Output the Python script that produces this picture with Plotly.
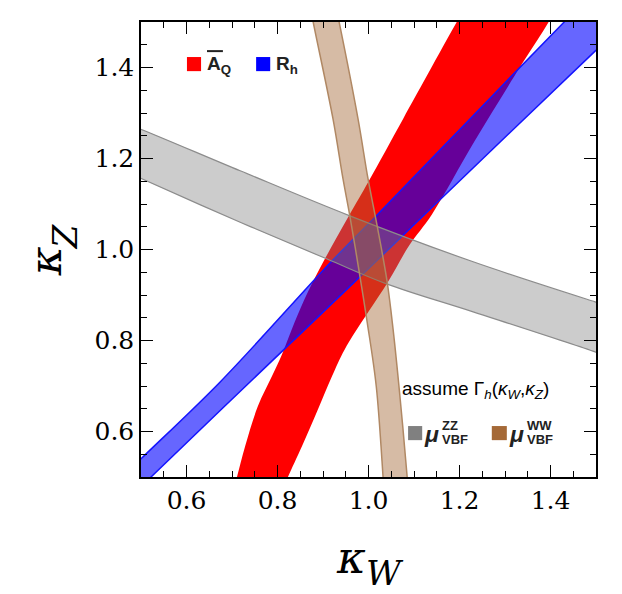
import plotly.graph_objects as go

# band edges, as (kappa_W, kappa_Z) pairs
# A_Q band (red)
aq_left_kw = [0.703, 0.711, 0.729, 0.757, 0.788, 0.810, 0.838, 0.867, 0.904, 0.957, 1.001, 1.076, 1.195, 1.210]
aq_left_kz = [0.470, 0.500, 0.568, 0.656, 0.722, 0.770, 0.841, 0.907, 0.979, 1.074, 1.151, 1.287, 1.502, 1.528]
aq_right_kw = [0.810, 0.823, 0.854, 0.889, 0.920, 0.948, 1.043, 1.089, 1.140, 1.232, 1.333, 1.397, 1.410]
aq_right_kz = [0.470, 0.500, 0.568, 0.649, 0.722, 0.781, 0.929, 1.008, 1.078, 1.236, 1.401, 1.502, 1.528]

# R_h band (blue)
rh_left_kw = [0.470, 0.500, 0.674, 0.918, 1.021, 1.223, 1.432, 1.490]
rh_left_kz = [0.510, 0.540, 0.709, 0.973, 1.078, 1.287, 1.502, 1.560]
rh_right_kw = [0.490, 0.522, 0.678, 1.045, 1.140, 1.498, 1.560]
rh_right_kz = [0.470, 0.500, 0.650, 1.001, 1.093, 1.436, 1.495]

# mu_VBF^ZZ band (gray)
zz_top_kw = [0.470, 0.498, 0.718, 0.959, 1.230, 1.498, 1.530]
zz_top_kz = [1.275, 1.265, 1.173, 1.074, 0.973, 0.885, 0.875]
zz_bot_kw = [0.470, 0.498, 0.718, 0.909, 1.041, 1.230, 1.498, 1.530]
zz_bot_kz = [1.170, 1.157, 1.060, 0.979, 0.924, 0.863, 0.775, 0.763]

# mu_VBF^WW band (tan)
ww_left_kw = [0.873, 0.878, 0.922, 0.944, 0.959, 0.981, 0.997, 1.017, 1.032, 1.034]
ww_left_kz = [1.530, 1.502, 1.287, 1.155, 1.074, 0.942, 0.841, 0.700, 0.500, 0.470]
ww_right_kw = [0.929, 0.935, 0.977, 0.999, 1.019, 1.041, 1.054, 1.069, 1.085, 1.087]
ww_right_kz = [1.530, 1.502, 1.287, 1.155, 1.052, 0.929, 0.825, 0.678, 0.500, 0.470]

tick_vals = [0.6, 0.8, 1.0, 1.2, 1.4]
tick_text = ["0.6", "0.8", "1.0", "1.2", "1.4"]


def band(x1, y1, x2, y2, fill, line, width, axes=("x", "y")):
    # outline = one edge forward, the other edge back
    return go.Scatter(x=x1 + x2[::-1], y=y1 + y2[::-1], mode="lines", fill="toself",
                      fillcolor=fill, line=dict(color=line, width=width, shape="spline", smoothing=1.0),
                      xaxis=axes[0], yaxis=axes[1], hoverinfo="skip", showlegend=False)


fig = go.Figure()
fig.add_trace(band(aq_left_kw, aq_left_kz, aq_right_kw, aq_right_kz, "rgb(255,0,0)", "rgb(255,0,0)", 0))
fig.add_trace(band(rh_left_kw, rh_left_kz, rh_right_kw, rh_right_kz, "rgba(0,0,255,0.6)", "rgb(20,20,255)", 1.5))
fig.add_trace(band(zz_top_kw, zz_top_kz, zz_bot_kw, zz_bot_kz, "rgba(128,128,128,0.4)", "rgb(140,140,140)", 1.2))
# last band sits on the overlay axes that carry the top/right ticks
fig.add_trace(band(ww_left_kw, ww_left_kz, ww_right_kw, ww_right_kz, "rgba(165,105,55,0.45)",
                   "rgb(176,136,100)", 1.5, axes=("x2", "y2")))

axis = dict(range=[0.5, 1.5], tickvals=tick_vals, ticktext=tick_text, ticks="inside", ticklen=12,
            tickwidth=1.2, tickcolor="black", showline=True, linecolor="black", linewidth=1.5,
            showgrid=False, zeroline=False,
            tickfont=dict(family="DejaVu Serif", size=25, color="black"),
            minor=dict(dtick=0.05, tick0=0.5, ticks="inside", ticklen=6, tickwidth=1, tickcolor="black"))
fig.update_layout(
    xaxis=dict(axis, side="bottom"),
    yaxis=dict(axis, side="left"),
    xaxis2=dict(axis, side="top", overlaying="x", anchor="y2", showticklabels=False),
    yaxis2=dict(axis, side="right", overlaying="y", anchor="x2", showticklabels=False),
)

# legend swatches
swatches = [
    (0.601, 0.632, 1.392, 1.423, "rgb(255,0,0)"),
    (0.753, 0.784, 1.392, 1.423, "rgb(0,0,255)"),
    (1.087, 1.118, 0.581, 0.612, "rgb(128,128,128)"),
    (1.271, 1.304, 0.581, 0.612, "rgb(165,105,55)"),
]
for x0, x1, y0, y1, c in swatches:
    fig.add_shape(type="rect", x0=x0, x1=x1, y0=y0, y1=y1, fillcolor=c, line=dict(width=0))
# bar over A
fig.add_shape(type="line", x0=0.645, x1=0.680, y0=1.436, y1=1.436, line=dict(color="#222", width=2))

lab = dict(family="Liberation Sans", size=19, color="#222")
fig.add_annotation(x=0.640, y=1.405, text="<b>A<sub>Q</sub></b>", showarrow=False,
                   xanchor="left", yanchor="middle", font=lab)
fig.add_annotation(x=0.792, y=1.405, text="<b>R<sub>h</sub></b>", showarrow=False,
                   xanchor="left", yanchor="middle", font=lab)
fig.add_annotation(x=1.069, y=0.692,
                   text="assume Γ<sub><i>h</i></sub>(<i>κ<sub>W</sub></i>,<i>κ<sub>Z</sub></i>)",
                   showarrow=False, xanchor="left", yanchor="middle",
                   font=dict(family="Liberation Sans", size=19, color="black"))
small = dict(family="Liberation Sans", size=13, color="#222")
for xm, sup in [(1.118, "ZZ"), (1.304, "WW")]:
    fig.add_annotation(x=xm, y=0.594, text="<b><i>μ</i></b>", showarrow=False,
                       xanchor="left", yanchor="middle",
                       font=dict(family="Liberation Sans", size=23, color="#222"))
    fig.add_annotation(x=xm + 0.039, y=0.613, text="<b>" + sup + "</b>", showarrow=False,
                       xanchor="left", yanchor="middle", font=small)
    fig.add_annotation(x=xm + 0.039, y=0.583, text="<b>VBF</b>", showarrow=False,
                       xanchor="left", yanchor="middle", font=small)

# axis titles, kappa and its subscript placed apart
big = dict(family="DejaVu Serif", size=44, color="black")
sub = dict(family="DejaVu Serif", size=34, color="black")
fig.add_annotation(xref="paper", yref="paper", x=0.462, y=-0.178, text="<i>κ</i>",
                   showarrow=False, xanchor="center", yanchor="middle", font=big)
fig.add_annotation(xref="paper", yref="paper", x=0.536, y=-0.212, text="<i>W</i>",
                   showarrow=False, xanchor="center", yanchor="middle", font=sub)
fig.add_annotation(xref="paper", yref="paper", x=-0.208, y=0.475, text="<i>κ</i>",
                   showarrow=False, xanchor="center", yanchor="middle", textangle=-90, font=big)
fig.add_annotation(xref="paper", yref="paper", x=-0.168, y=0.528, text="<i>Z</i>",
                   showarrow=False, xanchor="center", yanchor="middle", textangle=-90, font=sub)

# page body adds 8px on the top/left, so the figure is 8px smaller
fig.update_layout(width=614, height=586, margin=dict(l=133, r=26, t=14, b=117),
                  plot_bgcolor="white", paper_bgcolor="white", showlegend=False)

fig.write_html("out.html")
